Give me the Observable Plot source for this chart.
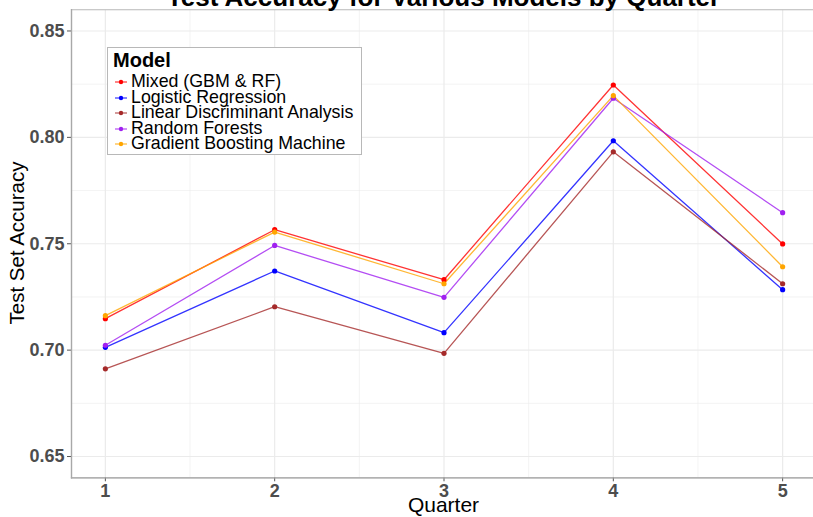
<!DOCTYPE html>
<html>
<head>
<meta charset="utf-8">
<script src="https://cdn.jsdelivr.net/npm/d3@7"></script>
<script src="https://cdn.jsdelivr.net/npm/@observablehq/plot@0.6"></script>
<style>
  html, body { margin: 0; padding: 0; background: white; }
  #wrap { position: relative; width: 813px; height: 517px; overflow: hidden; font-family: "Liberation Sans", Arial, sans-serif; }
  #wrap > svg { max-width: none !important; position: absolute; left: 0; top: 0; }
  #legend { position: absolute; left: 107px; top: 47px; width: 255px; height: 108px; border: 1px solid #b8b8b8; background: white; box-sizing: border-box; }
  #legend .ttl { position: absolute; left: 5px; top: 1px; font-weight: bold; font-size: 20px; line-height: 22px; color: #000; }
  #legend .row { position: absolute; left: 6px; height: 15px; font-size: 17.8px; line-height: 15px; color: #000; white-space: nowrap; }
  #legend .row svg { position: absolute; left: 0; top: 0; }
  #legend .row span { position: absolute; left: 17px; top: -1px; }
</style>
</head>
<body>
<div id="wrap"></div>
<script>
const quarters = [1, 2, 3, 4, 5];
const models = ["Mixed (GBM & RF)", "Logistic Regression", "Linear Discriminant Analysis", "Random Forests", "Gradient Boosting Machine"];
const colors = ["#FF0000", "#0000FF", "#A52A2A", "#A020F0", "#FFA500"];
const mixed    = [0.7148, 0.7566, 0.7331, 0.8246, 0.7499];
const logistic = [0.7013, 0.7372, 0.7082, 0.7984, 0.7284];
const lda      = [0.6912, 0.7204, 0.6985, 0.7932, 0.7312];
const rf       = [0.7023, 0.7492, 0.7248, 0.8184, 0.7646];
const gbm      = [0.7162, 0.7555, 0.7312, 0.8196, 0.7392];
const yTicks = [0.65, 0.70, 0.75, 0.80, 0.85];
const yMinor = [0.675, 0.725, 0.775, 0.825];
const xMinor = [1.5, 2.5, 3.5, 4.5];
const title = "Test Accuracy for Various Models by Quarter";
const xLabel = "Quarter";
const yLabel = "Test Set Accuracy";

const series = [mixed, logistic, lda, rf, gbm];
const data = [];
series.forEach((vals, i) => vals.forEach((v, j) => data.push({model: models[i], quarter: quarters[j], acc: v})));

const W = 816, H = 517;
const chart = Plot.plot({
  width: W, height: H,
  marginLeft: 71, marginRight: 0, marginTop: 9.2, marginBottom: 39.7,
  style: {fontFamily: "Liberation Sans, Arial, sans-serif", background: "white", maxWidth: "none"},
  x: {domain: [0.8, 5.2]},
  y: {domain: [0.64, 0.86]},
  color: {domain: models, range: colors},
  marks: [
    Plot.ruleY(yMinor, {stroke: "#ebebeb", strokeWidth: 0.6}),
    Plot.ruleX(xMinor, {stroke: "#ebebeb", strokeWidth: 0.6}),
    Plot.ruleY(yTicks, {stroke: "#ebebeb", strokeWidth: 1.2}),
    Plot.ruleX(quarters, {stroke: "#ebebeb", strokeWidth: 1.2}),
    Plot.frame({stroke: "#c4c4c4", strokeWidth: 1.2}),
    Plot.axisY({ticks: yTicks, tickFormat: d3.format(".2f"), tickSize: 4, tickPadding: 3, fontSize: 18, fontWeight: "bold", fill: "#4d4d4d", stroke: "#555", label: null}),
    Plot.axisX({ticks: quarters, tickFormat: d3.format("d"), tickSize: 4, tickPadding: 2, fontSize: 18, fontWeight: "bold", fill: "#4d4d4d", stroke: "#555", label: null}),
    Plot.frame({anchor: "left", stroke: "#a8a8a8", strokeWidth: 1.3}),
    Plot.frame({anchor: "bottom", stroke: "#a8a8a8", strokeWidth: 1.3}),
    Plot.line(data, {x: "quarter", y: "acc", z: "model", stroke: "model", strokeWidth: 1.3, strokeOpacity: 0.8}),
    Plot.dot(data, {x: "quarter", y: "acc", fill: "model", r: 2.6})
  ]
});

const svg = d3.select(chart);
svg.append("text").attr("x", 443.5).attr("y", 5.5).attr("text-anchor", "middle")
  .attr("font-size", 26).attr("font-weight", "bold").attr("fill", "#000").text(title);
svg.append("text").attr("x", 443.5).attr("y", 512).attr("text-anchor", "middle")
  .attr("font-size", 21).attr("fill", "#000").text(xLabel);
svg.append("text").attr("transform", "translate(24,243) rotate(-90)").attr("text-anchor", "middle")
  .attr("font-size", 20.5).attr("fill", "#000").text(yLabel);

const wrap = document.getElementById("wrap");
wrap.appendChild(chart);

const legend = document.createElement("div");
legend.id = "legend";
legend.innerHTML = '<div class="ttl">Model</div>';
models.forEach((m, i) => {
  const row = document.createElement("div");
  row.className = "row";
  row.style.top = (27 + i * 15.6) + "px";
  row.innerHTML = `<svg width="14" height="15"><line x1="1" y1="7" x2="13" y2="7" stroke="${colors[i]}" stroke-width="1.2" stroke-opacity="0.8"/><circle cx="7" cy="7" r="2.2" fill="${colors[i]}"/></svg><span>${m.replace("&", "&amp;")}</span>`;
  legend.appendChild(row);
});
wrap.appendChild(legend);
</script>
</body>
</html>
